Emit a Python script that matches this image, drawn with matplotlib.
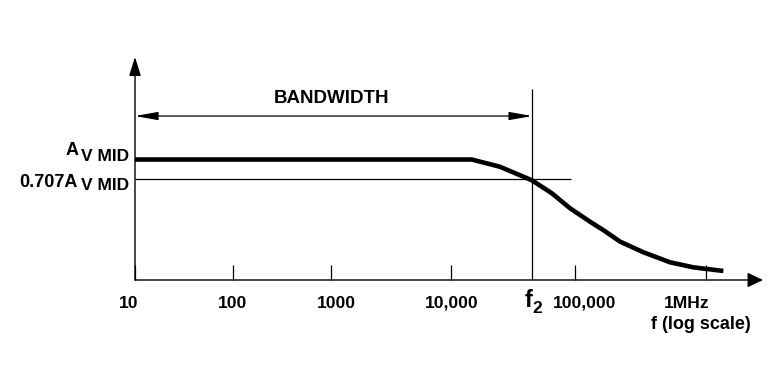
import numpy as np
import matplotlib
matplotlib.use("Agg")
import matplotlib.pyplot as plt

plt.rcParams['font.family'] = ['Liberation Sans', 'DejaVu Sans']
plt.rcParams['font.weight'] = 'bold'

# Response curve (gain relative to A_V MID on the drawn scale)
freq = [10, 14700, 24800, 44800, 65000, 91200, 130000, 164000, 221000, 333000, 531000, 800000, 1355000]
gain = [1.0, 1.0, 0.940, 0.828, 0.720, 0.595, 0.484, 0.415, 0.318, 0.230, 0.147, 0.105, 0.075]

f2 = 45000
level_mid = 1.0
level_707 = 0.835
line_707_end = 93000

tick_freqs = [10, 100, 1000, 10000, 100000, 1000000]
tick_labels = ["10", "100", "1000", "10,000", "100,000", "1MHz"]

# the hand drawn decades are not evenly spaced, so use a piecewise log scale
dec_log = [0, 1, 2, 3, 4, 5, 6, 7]
dec_pos = [-98, 0, 98, 196, 316, 440, 571, 702]


def fwd(f):
    return np.interp(np.log10(np.clip(f, 1e-3, None)), dec_log, dec_pos)


def inv(u):
    return 10 ** np.interp(u, dec_pos, dec_log)


fig = plt.figure(figsize=(7.76, 3.9), dpi=100)
ax = fig.add_axes([135 / 776, 110 / 390, 628 / 776, 223 / 390])
ax.set_xscale('function', functions=(fwd, inv))
ax.set_xlim(10, 2.72e6)
ax.set_ylim(0, 1.851)
for s in ax.spines.values():
    s.set_visible(False)
ax.set_yticks([])
ax.set_xticks(tick_freqs)
ax.set_xticks([], minor=True)
ax.tick_params(axis='x', direction='in', length=10.8, width=0.9, color='black',
               labelbottom=False)

# axes with arrow heads
ax.annotate('', xy=(1, 0), xycoords='axes fraction', xytext=(0, 0),
            arrowprops=dict(arrowstyle='-|>,head_length=0.95,head_width=0.45', mutation_scale=10,
                            lw=1.0, color='black', shrinkA=0, shrinkB=0))
ax.annotate('', xy=(0, 1), xycoords='axes fraction', xytext=(0, 0),
            arrowprops=dict(arrowstyle='-|>,head_length=1.15,head_width=0.36', mutation_scale=10,
                            lw=1.0, color='black', shrinkA=0, shrinkB=0))

# -3 dB reference lines
ax.plot([10, line_707_end], [level_707, level_707], color='black', lw=0.9, solid_capstyle='butt')
ax.plot([f2, f2], [0, 1.585], color='black', lw=0.9, solid_capstyle='butt')

# response
ax.plot(freq, gain, color='black', lw=3.3, solid_joinstyle='round', solid_capstyle='butt')

# bandwidth arrow
ax.annotate('', xy=(f2, 1.361), xytext=(10, 1.361),
            arrowprops=dict(arrowstyle='<|-|>,head_length=1.4,head_width=0.25', mutation_scale=10,
                            lw=0.9, color='black', shrinkA=0, shrinkB=0))
ax.text(1000, 1.471, "BANDWIDTH", ha='center', va='baseline', fontsize=13.5)

# x labels
offs = [-6, -1, 5, 1, 10, -19]
for f, lab, dx in zip(tick_freqs, tick_labels, offs):
    ax.annotate(lab, xy=(f, 0), xytext=(dx * 0.72, -28 * 0.72), textcoords='offset points',
                ha='center', va='baseline', fontsize=12.6)
ax.annotate("f (log scale)", xy=(1e6, 0), xytext=(-5 * 0.72, -49 * 0.72),
            textcoords='offset points', ha='center', va='baseline', fontsize=13)
ax.annotate("f", xy=(f2, 0), xytext=(0, -27 * 0.72), textcoords='offset points',
            ha='right', va='baseline', fontsize=17)
ax.annotate("2", xy=(f2, 0), xytext=(0, -33 * 0.72), textcoords='offset points',
            ha='left', va='baseline', fontsize=12.5)

# y labels
ax.annotate("A", xy=(10, level_mid), xytext=(-56 * 0.72, 4.5 * 0.72), textcoords='offset points',
            ha='right', va='baseline', fontsize=13)
ax.annotate("V MID", xy=(10, level_mid), xytext=(-6 * 0.72, -1.5 * 0.72), textcoords='offset points',
            ha='right', va='baseline', fontsize=12.5)
ax.annotate("0.707A", xy=(10, level_707), xytext=(-57 * 0.72, -8 * 0.72), textcoords='offset points',
            ha='right', va='baseline', fontsize=13)
ax.annotate("V MID", xy=(10, level_707), xytext=(-6 * 0.72, -11 * 0.72), textcoords='offset points',
            ha='right', va='baseline', fontsize=12.5)

fig.savefig("out.png", dpi=100)
